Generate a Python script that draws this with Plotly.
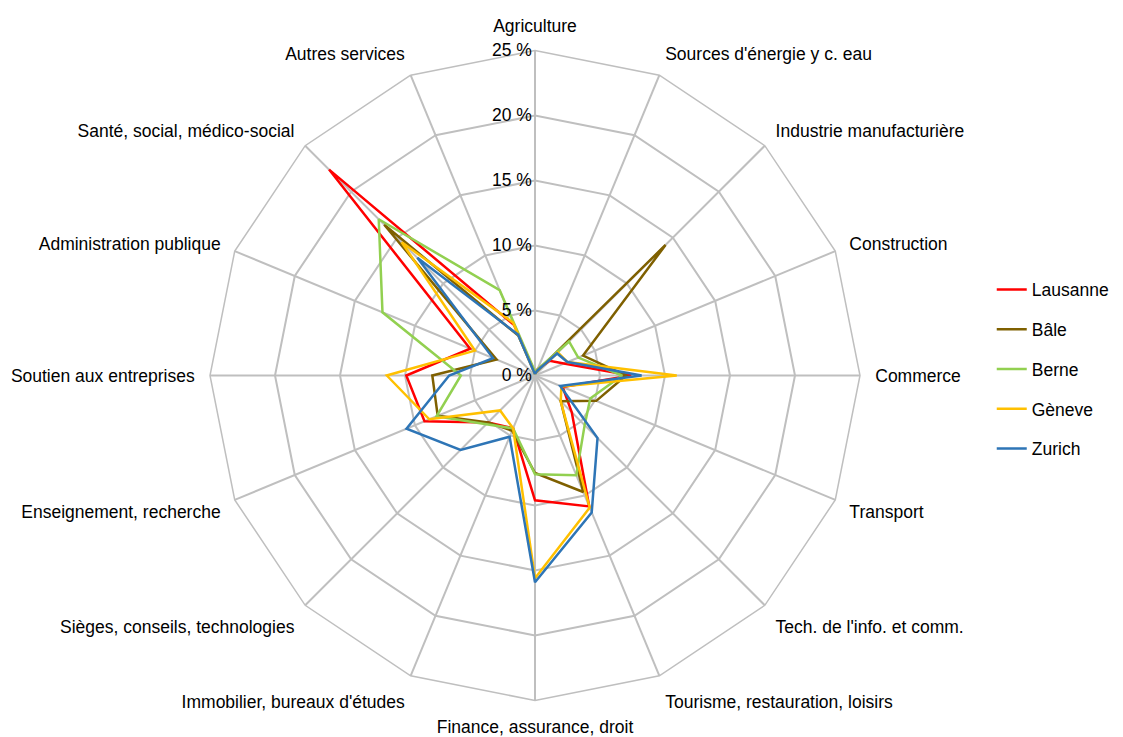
import plotly.graph_objects as go

categories = [
    "Agriculture", "Sources d'énergie y c. eau", "Industrie manufacturière",
    "Construction", "Commerce", "Transport", "Tech. de l'info. et comm.",
    "Tourisme, restauration, loisirs", "Finance, assurance, droit",
    "Immobilier, bureaux d'études", "Sièges, conseils, technologies",
    "Enseignement, recherche", "Soutien aux entreprises",
    "Administration publique", "Santé, social, médico-social", "Autres services",
]

lausanne = [0.2, 0.5, 1.6, 2.4, 7.4, 2.3, 4.0, 10.9, 9.6, 4.4, 5.1, 9.2, 9.9, 5.4, 22.4, 4.2]
bale     = [0.2, 0.3, 14.2, 4.0, 7.0, 5.1, 2.8, 9.7, 7.5, 4.6, 5.1, 8.1, 7.9, 3.2, 16.4, 3.3]
berne    = [0.3, 0.5, 3.7, 3.6, 6.7, 4.6, 5.4, 8.3, 7.6, 4.4, 5.3, 8.2, 5.7, 12.7, 17.0, 7.1]
geneve   = [0.1, 0.4, 2.5, 2.7, 10.9, 2.2, 2.8, 11.0, 15.6, 4.4, 3.8, 8.8, 11.4, 5.0, 14.5, 4.4]
zurich   = [0.1, 0.4, 2.4, 2.7, 8.2, 2.1, 6.8, 11.4, 15.9, 5.1, 8.1, 10.7, 6.6, 3.5, 12.8, 3.4]

series = [
    ("Lausanne", lausanne, "#FF0000"),
    ("Bâle", bale, "#7F6000"),
    ("Berne", berne, "#92D050"),
    ("Gèneve", geneve, "#FFC000"),
    ("Zurich", zurich, "#2E75B6"),
]

tick_vals = [0, 5, 10, 15, 20, 25]
tick_text = ["0 %", "5 %", "10 %", "15 %", "20 %", "25 %"]

fig = go.Figure()
for i, (name, vals, color) in enumerate(series):
    fig.add_trace(go.Scatterpolar(
        r=vals + vals[:1],
        theta=categories + categories[:1],
        mode="lines",
        name=name,
        legendgroup=f"g{i}",
        line=dict(color=color, width=2.5),
    ))

font_family = "Liberation Sans, Arial, sans-serif"
FS = 17.5
W, H = 1123, 737
cx, cy, R = 527, 367.5, 325

fig.update_layout(
    width=W, height=H,
    margin=dict(l=0, r=0, t=0, b=0),
    paper_bgcolor="white",
    plot_bgcolor="white",
    font=dict(family=font_family, size=FS, color="black"),
    polar=dict(
        domain=dict(x=[(cx - R) / W, (cx + R) / W], y=[(H - cy - R) / H, (H - cy + R) / H]),
        bgcolor="white",
        gridshape="linear",
        angularaxis=dict(
            rotation=90,
            direction="clockwise",
            gridcolor="#BFBFBF",
            gridwidth=1.5,
            linecolor="#BFBFBF",
            linewidth=1.5,
            ticks="outside",
            ticklen=11,
            tickcolor="rgba(0,0,0,0)",
            tickfont=dict(size=FS, family=font_family, color="black"),
        ),
        radialaxis=dict(
            range=[0, 25],
            angle=90,
            tickangle=90,
            tickvals=tick_vals,
            ticktext=tick_text,
            gridcolor="#BFBFBF",
            gridwidth=1.5,
            showline=False,
            ticks="",
            side="counterclockwise",
            tickfont=dict(size=FS, family=font_family, color="black"),
        ),
    ),
    legend=dict(
        x=0.876, y=0.51, xanchor="left", yanchor="middle",
        font=dict(size=FS, family=font_family, color="black"),
        tracegroupgap=14,
        bgcolor="rgba(0,0,0,0)",
    ),
)

fig.write_html("out.html")
